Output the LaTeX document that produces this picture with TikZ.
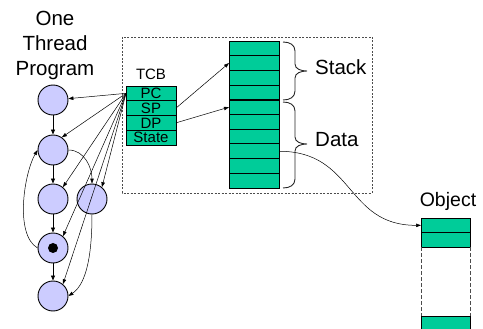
\documentclass[tikz,border=0pt]{standalone}
\usepackage{fontspec}
\setmainfont{Liberation Sans}
\usetikzlibrary{arrows.meta}
\definecolor{cgreen}{RGB}{0,204,153}
\definecolor{clav}{RGB}{204,204,255}
\newcommand{\rbrc}[3]{%
 \draw[brc] (283,#1) .. controls (290,#1) and (295,{#1+3}) .. (295,{#1+9})
   -- (295,{#2-7}) .. controls (295,{#2-2}) and (301,#2) .. (307,#2)
   .. controls (301,#2) and (295,{#2+2}) .. (295,{#2+7})
   -- (295,{#3-9}) .. controls (295,{#3-3}) and (290,#3) .. (283,#3);}
\begin{document}
\begin{tikzpicture}[x=1pt,y=-1pt,
  statenode/.style={circle,draw=black,line width=0.9pt,fill=clav,minimum size=30pt,inner sep=0pt},
  cell/.style={rectangle,draw=black,line width=0.8pt,fill=cgreen,minimum width=50pt,minimum height=14.7pt,inner sep=0pt,outer sep=0pt,anchor=north west,font=\fontsize{15}{15}\selectfont},
  flow/.style={-{Triangle[length=5pt,width=4pt]},line width=0.8pt},
  ptr/.style={-{Triangle[length=5pt,width=3.5pt]},line width=0.5pt},
  lbl/.style={font=\fontsize{20.5}{25}\selectfont,anchor=base,inner sep=0pt},
  brc/.style={line width=0.9pt,draw=black!85},
  frame/.style={draw=black!70,line width=0.8pt,dash pattern=on 2pt off 1.5pt},
]
\useasboundingbox (0,0) rectangle (483,329);
\clip (0,0) rectangle (483,329);

% title
\node[lbl] (t1) at (55,26) {One};
\node[lbl] (t2) at (55,51) {Thread};
\node[lbl] (t3) at (55,76) {Program};

% dashed frame
\draw[frame] (122,37) rectangle (372,193);

% states
\node[statenode] (c1) at (53,100) {};
\node[statenode] (c2) at (53,150) {};
\node[statenode] (c3) at (53,199) {};
\node[statenode] (c4) at (92,199) {};
\node[statenode] (c5) at (53,248) {};
\node[statenode] (c6) at (53,296) {};
\fill (c5) circle (5pt);

\draw[flow] (c1) -- (c2);
\draw[flow] (c2) -- (c3);
\draw[flow] (c3) -- (c5);
\draw[flow] (c5) -- (c6);
\draw[ptr] (c2.east) to[out=0,in=90] (c4.north);
\draw[ptr] (c4.south) .. controls +(0,50) and +(15,-10) .. (c6.east);
\draw[ptr] (c5.west) to[out=150,in=240,looseness=0.7] (c2.west);

% TCB
\node[font=\fontsize{15}{15}\selectfont,anchor=base,inner sep=0pt] (tcb) at (151,80) {TCB};
\node[cell] (pc) at (126,86) {PC};
\node[cell] (sp) at (126,100.75) {SP};
\node[cell] (dp) at (126,115.5) {DP};
\node[cell] (st) at (126,130.25) {State};

\draw[ptr] (pc.west) -- (c1.5);
\draw[ptr] (pc.west) -- (c2.55);
\draw[ptr] (pc.west) -- (c3.50);
\draw[ptr] (pc.west) -- (c4.50);
\draw[ptr] (pc.west) -- (c5.50);
\draw[ptr] (pc.west) -- (c6.50);

% memory
\foreach \i in {1,...,10}
  \node[cell] (m\i) at (229,{41+(\i-1)*14.7}) {};
\draw[line width=1.6pt] (m4.south west) -- (m4.south east);

\draw[ptr] (sp.east) -- (m2.west);
\draw[ptr] (dp.east) -- (m5.west);

% braces
\rbrc{42}{71}{100}
\rbrc{102}{144}{188}
\node[lbl,anchor=base west] (stack) at (315,75) {Stack};
\node[lbl,anchor=base west] (data) at (315,147) {Data};

% object
\node[font=\fontsize{19.5}{20}\selectfont,anchor=base,inner sep=0pt] (objlbl) at (448,206.7) {Object};
\node[cell,minimum width=49pt] (o1) at (421,218) {};
\node[cell,minimum width=49pt] (o2) at (421,232.7) {};
\draw[draw=black!70,line width=0.8pt,dash pattern=on 4pt off 2pt] (o2.south west) -- (421,316);
\draw[draw=black!70,line width=0.8pt,dash pattern=on 4pt off 2pt] (o2.south east) -- (470,316);
\node[cell,minimum width=49pt,minimum height=20pt] (o3) at (421,316) {};

\draw[ptr] (m8.east) .. controls +(76,0) and +(-76,0) .. (o1.west);
\end{tikzpicture}
\end{document}
